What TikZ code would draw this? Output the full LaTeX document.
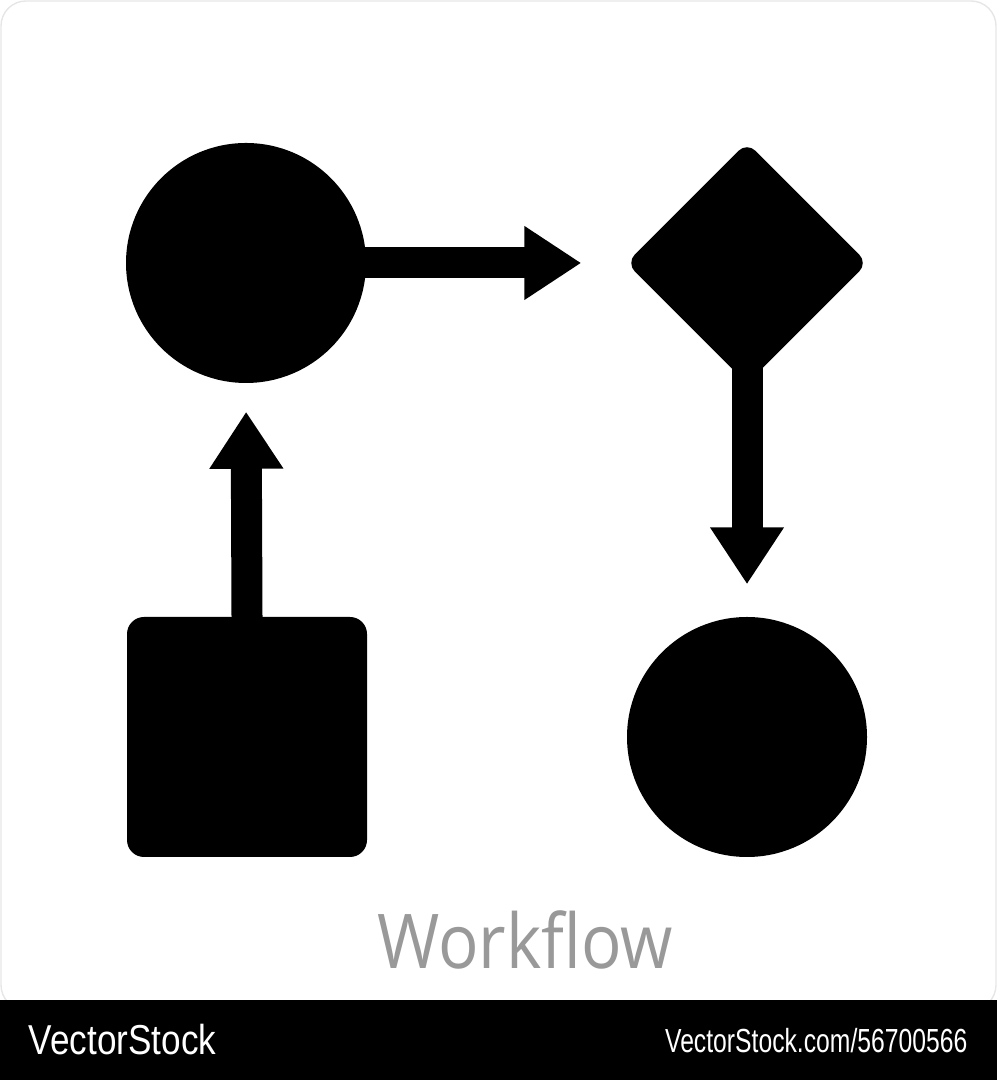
\documentclass[tikz,border=0pt]{standalone}
\usepackage{fontspec}
\setmainfont{Open Sans}
\newfontfamily\bannerfont{Liberation Sans}
\usepackage{tikz}
\usetikzlibrary{arrows.meta,positioning,shapes.geometric}
\definecolor{labelgray}{HTML}{999999}
\definecolor{framegray}{HTML}{E6E6E6}

\begin{document}
\begin{tikzpicture}
\tikzset{shapefill/.style={fill=black,draw=none,inner sep=0pt}}
\tikzset{blob/.style={shapefill,circle,minimum size=2.4cm}}
\tikzset{flowarrow/.style={draw=black,line width=0.31cm,shorten <=-0.1cm,
-{Triangle[length=0.57cm,width=0.70cm]}}}
\useasboundingbox (0,0) rectangle (9.97,10.80);
\draw[framegray,rounded corners=0.25cm] (0.01,0.70) rectangle (9.96,10.79);
% shapes
\node[blob] (start) at (2.46,8.17) {};
\node[shapefill,diamond,aspect=1,minimum width=2.42cm,minimum height=2.42cm,
rounded corners=0.12cm] (decide) at (7.47,8.17) {};
\node[blob] (finish) at (7.47,3.43) {};
\node[shapefill,rectangle,minimum size=2.4cm,rounded corners=0.17cm]
(task) at (2.47,3.43) {};
% connectors
\draw[flowarrow,shorten >=0.44cm] (start.east) -- (decide.west);
\draw[flowarrow,shorten <=-0.2cm,shorten >=0.32cm] (decide.south) -- (finish.north);
\draw[flowarrow,shorten >=0.28cm] (task.north) -- (start.south);
\node[labelgray,font=\fontsize{21.5}{24}\selectfont,anchor=base]
(title) at (5.25,1.11) {\scalebox{0.89}[1]{Workflow}};
% banner
\fill[black] (0,0) rectangle (9.97,0.80);
\node[white,anchor=base west,inner sep=0pt,font=\bannerfont\fontsize{11.9}{13}\selectfont]
(brand) at (0.28,0.25) {\scalebox{0.84}[1]{VectorStock}};
\node[white,anchor=base east,inner sep=0pt,font=\bannerfont\fontsize{9.5}{11}\selectfont]
(imageid) at (9.68,0.27) {\scalebox{0.74}[1]{VectorStock.com/56700566}};
\end{tikzpicture}
\end{document}
